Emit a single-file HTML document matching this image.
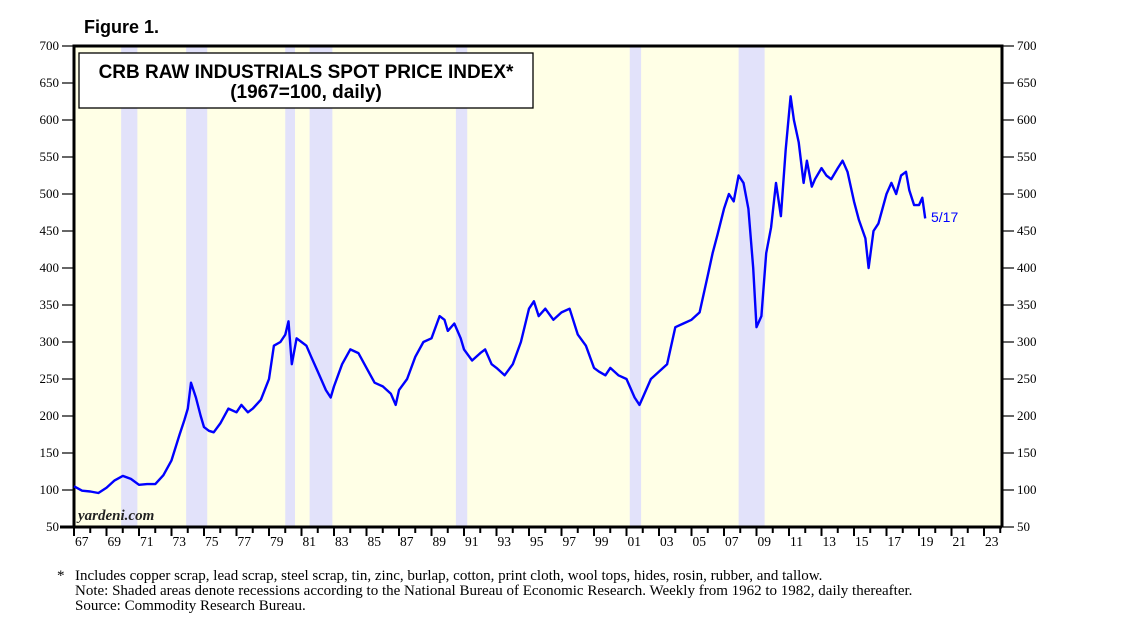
<!DOCTYPE html>
<html><head><meta charset="utf-8"><style>
body{margin:0;background:#fff;width:1138px;height:626px;overflow:hidden}
svg{display:block}
</style></head><body>
<svg id="chart" width="1138" height="626" xmlns="http://www.w3.org/2000/svg">
<text x="84" y="33" font-family="Liberation Sans, sans-serif" font-weight="bold" font-size="18">Figure 1.</text>
<rect id="plotbg" x="74" y="46" width="928" height="481" fill="#ffffe6"/>
<g id="rec"></g>
<g id="axes"></g>
<path id="line" fill="none" stroke="#0000ff" stroke-width="2.4" stroke-linejoin="round"/>
<text x="931" y="222" font-family="Liberation Sans, sans-serif" font-size="14" fill="#0000ff">5/17</text>
<rect x="79" y="53" width="454" height="55" fill="#fff" stroke="#000" stroke-width="1.3"/>
<text x="306" y="78" text-anchor="middle" font-family="Liberation Sans, sans-serif" font-weight="bold" font-size="19">CRB RAW INDUSTRIALS SPOT PRICE INDEX*</text>
<text x="306" y="98" text-anchor="middle" font-family="Liberation Sans, sans-serif" font-weight="bold" font-size="19">(1967=100, daily)</text>
<text x="78" y="520" font-family="Liberation Serif, serif" font-style="italic" font-weight="bold" font-size="15" fill="#222">yardeni.com</text>
<g font-family="Liberation Serif, serif" font-size="15" fill="#000">
<text x="57" y="580">*</text>
<text x="75" y="580">Includes copper scrap, lead scrap, steel scrap, tin, zinc, burlap, cotton, print cloth, wool tops, hides, rosin, rubber, and tallow.</text>
<text x="75" y="595">Note: Shaded areas denote recessions according to the National Bureau of Economic Research. Weekly from 1962 to 1982, daily thereafter.</text>
<text x="75" y="610">Source: Commodity Research Bureau.</text>
</g>
</svg>
<script>
const years=[1967,1967.5,1968,1968.5,1969,1969.5,1970,1970.5,1971,1971.5,1972,1972.5,1973,1973.5,1973.8,1974,1974.2,1974.5,1974.8,1975,1975.3,1975.6,1976,1976.5,1977,1977.3,1977.7,1978,1978.5,1979,1979.3,1979.7,1980,1980.2,1980.4,1980.7,1981,1981.3,1981.6,1982,1982.5,1982.8,1983,1983.5,1984,1984.5,1985,1985.5,1986,1986.5,1986.8,1987,1987.5,1988,1988.5,1989,1989.5,1989.8,1990,1990.4,1990.8,1991,1991.5,1992,1992.3,1992.7,1993,1993.5,1994,1994.5,1995,1995.3,1995.6,1996,1996.5,1997,1997.5,1998,1998.5,1999,1999.3,1999.7,2000,2000.5,2001,2001.5,2001.8,2002,2002.5,2003,2003.5,2004,2004.5,2005,2005.5,2006,2006.3,2006.6,2007,2007.3,2007.6,2007.9,2008.2,2008.5,2008.8,2009,2009.3,2009.6,2009.9,2010.2,2010.5,2010.8,2011.1,2011.3,2011.6,2011.9,2012.1,2012.4,2012.6,2013,2013.3,2013.6,2014,2014.3,2014.6,2015,2015.3,2015.7,2015.9,2016.2,2016.5,2017,2017.3,2017.6,2017.9,2018.2,2018.4,2018.7,2019,2019.2,2019.38];
const values=[105,99,98,96,103,113,119,115,107,108,108,120,140,175,195,210,245,225,200,185,180,178,190,210,205,215,205,210,222,250,295,300,310,328,270,305,300,295,280,260,235,225,240,270,290,285,265,245,240,230,215,235,250,280,300,305,335,330,315,325,305,290,275,285,290,270,265,255,270,300,345,355,335,345,330,340,345,310,295,265,260,255,265,255,250,225,215,225,250,260,270,320,325,330,340,390,420,445,480,500,490,525,515,480,400,320,335,420,455,515,470,560,632,600,570,515,545,510,520,535,525,520,535,545,530,490,465,440,400,450,460,500,515,500,525,530,505,485,485,495,467];
const recStart=[1969.9,1973.9,1980.0,1981.5,1990.5,2001.2,2007.9];
const recEnd=[1970.9,1975.2,1980.6,1982.9,1991.2,2001.9,2009.5];
const yTicks=[50,100,150,200,250,300,350,400,450,500,550,600,650,700];
const xLabels=[67,69,71,73,75,77,79,81,83,85,87,89,91,93,95,97,99,1,3,5,7,9,11,13,15,17,19,21,23];
const NS='http://www.w3.org/2000/svg';
const L=74,R=1002,T=46,B=527;
const xs=y=>L+(y-1967)*16.25;
const ys=v=>B-(v-50)/650*(B-T);
function mk(tag,attrs,parent){const e=document.createElementNS(NS,tag);for(const k in attrs)e.setAttribute(k,attrs[k]);parent.appendChild(e);return e;}
const rec=document.getElementById('rec');
recStart.forEach((s,i)=>{
 const r=mk('rect',{x:xs(s),y:T,width:xs(recEnd[i])-xs(s),height:B-T,fill:'#e2e2fa'},rec);
 
 
});
const ax=document.getElementById('axes');
yTicks.forEach(v=>{
 const y=ys(v);
 mk('line',{x1:62,x2:L,y1:y,y2:y,stroke:'#000','stroke-width':1.2},ax);
 mk('line',{x1:R,x2:R+12,y1:y,y2:y,stroke:'#000','stroke-width':1.2},ax);
 const t1=mk('text',{x:59,y:y+4,'text-anchor':'end','font-family':'Liberation Serif, serif','font-size':13},ax);t1.textContent=v;
 
 
 const t2=mk('text',{x:R+15,y:y+4,'font-family':'Liberation Serif, serif','font-size':13},ax);t2.textContent=v;
 
 
});
for(let yr=1967;yr<=2024;yr++){
 const x=xs(yr);
 mk('line',{x1:x,x2:x,y1:B,y2:B+(yr%2?9:6),stroke:'#000','stroke-width':2},ax);
}
xLabels.forEach((l,i)=>{
 const x=xs(1967+2*i);
 const t=mk('text',{x:x+1,y:B+19,'font-family':'Liberation Serif, serif','font-size':13.5},ax);
 t.textContent=String(l).padStart(2,'0');
 
 
});
mk('path',{d:`M${L},${B} L${L},${T} L${R},${T} L${R},${B}`,fill:'none',stroke:'#000','stroke-width':3},ax);
mk('line',{x1:60,x2:R,y1:B,y2:B,stroke:'#000','stroke-width':3},ax);
let d='';
years.forEach((y,i)=>{d+=(i?'L':'M')+xs(y).toFixed(1)+','+ys(values[i]).toFixed(1);});
document.getElementById('line').setAttribute('d',d);
</script>
</body></html>
